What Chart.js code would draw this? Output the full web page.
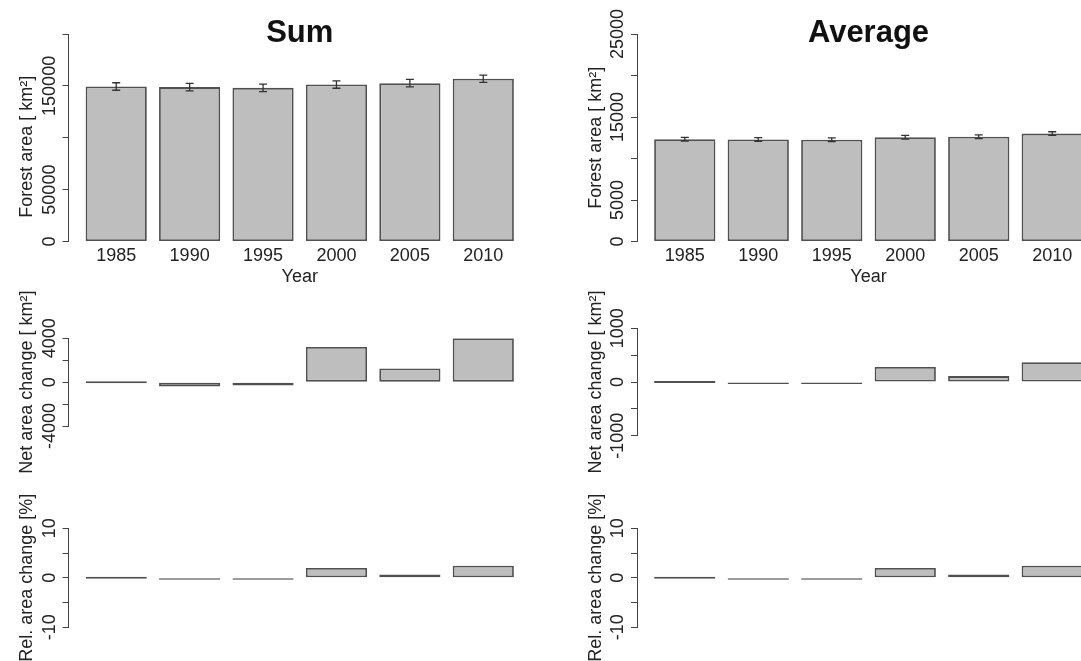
<!DOCTYPE html>
<html>
<head>
<meta charset="utf-8">
<script src="https://cdn.jsdelivr.net/npm/chart.js@4.4.1/dist/chart.umd.min.js"></script>
<style>
  html, body { margin: 0; padding: 0; background: #fff; }
  #wrap { position: relative; width: 1081px; height: 661px; overflow: hidden; }
  #wrap canvas { position: absolute; }
</style>
</head>
<body>
<div id="wrap">
  <canvas id="sumArea" width="540" height="300" style="left:0;top:0"></canvas>
  <canvas id="avgArea" width="560" height="300" style="left:540px;top:0"></canvas>
  <canvas id="sumNet" width="540" height="200" style="left:0;top:280px"></canvas>
  <canvas id="avgNet" width="560" height="200" style="left:540px;top:280px"></canvas>
  <canvas id="sumRel" width="540" height="191" style="left:0;top:470px"></canvas>
  <canvas id="avgRel" width="560" height="191" style="left:540px;top:470px"></canvas>
</div>
<script>
const FONT = '"Liberation Sans", Arial, Helvetica, sans-serif';

// data
const years = ['1985', '1990', '1995', '2000', '2005', '2010'];

const sumArea    = [149400, 148800, 148100, 151300, 152600, 156800];
const sumAreaErr = [3600, 3600, 3600, 3600, 3600, 3500];
const avgArea    = [12330, 12300, 12270, 12560, 12620, 13000];
const avgAreaErr = [220, 220, 220, 220, 220, 220];

const sumNet = [0, -400, -300, 3200, 1250, 4000];
const avgNet = [0, -30, -30, 280, 110, 370];

const sumRel = [0, -0.25, -0.2, 2.0, 0.65, 2.45];
const avgRel = [0, -0.25, -0.2, 2.0, 0.65, 2.45];

// labelled y ticks (R leaves out the ones that would overlap)
const sumAreaTicks = [0, 50000, 150000];
const avgAreaTicks = [0, 5000, 15000, 25000];
const sumNetTicks  = [-4000, 0, 4000];
const avgNetTicks  = [-1000, 0, 1000];
const relTicks     = [-10, 0, 10];

// barplot(): width 1, space 0.2
const barX = years.map((y, i) => 0.7 + 1.2 * i);

// y tick labels, rotated like R's las=0
const rAxisLabels = {
  id: 'rAxisLabels',
  afterDraw(chart, args, opts) {
    const ctx = chart.ctx, y = chart.scales.y;
    const x0 = chart.chartArea.left - 14;
    ctx.save();
    ctx.font = '18px ' + FONT;
    ctx.fillStyle = '#222';
    ctx.textAlign = 'center';
    ctx.textBaseline = 'alphabetic';
    (opts.labels || []).forEach(v => {
      ctx.save();
      ctx.translate(x0, y.getPixelForValue(v));
      ctx.rotate(-Math.PI / 2);
      ctx.fillText(String(v), 0, 0);
      ctx.restore();
    });
    ctx.restore();
  }
};

const errorBars = {
  id: 'errorBars',
  afterDatasetsDraw(chart, args, opts) {
    if (!opts.err) return;
    const ctx = chart.ctx, y = chart.scales.y;
    const meta = chart.getDatasetMeta(0);
    const vals = chart.data.datasets[0].data;
    ctx.save();
    ctx.strokeStyle = '#333';
    ctx.lineWidth = 1.3;
    meta.data.forEach((bar, i) => {
      const v = vals[i].y, e = opts.err[i];
      const t = y.getPixelForValue(v + e), b = y.getPixelForValue(v - e);
      ctx.beginPath();
      ctx.moveTo(bar.x, t); ctx.lineTo(bar.x, b);
      ctx.moveTo(bar.x - 4, t); ctx.lineTo(bar.x + 4, t);
      ctx.moveTo(bar.x - 4, b); ctx.lineTo(bar.x + 4, b);
      ctx.stroke();
    });
    ctx.restore();
  }
};

function panel(id, cfg) {
  const top = cfg.title != null;
  new Chart(document.getElementById(id), {
    type: 'bar',
    data: {
      datasets: [{
        data: cfg.values.map((v, i) => ({ x: barX[i], y: v })),
        backgroundColor: '#bebebe',
        borderColor: '#505050',
        borderWidth: 1.8,
        borderSkipped: false,
        minBarLength: cfg.minBar || 0,
        barPercentage: 1 / 1.2,
        categoryPercentage: 1
      }]
    },
    options: {
      responsive: false,
      animation: false,
      events: [],
      layout: { padding: cfg.pad },
      plugins: {
        legend: { display: false },
        tooltip: { enabled: false },
        title: {
          display: top, text: cfg.title, fullSize: false, color: '#111',
          font: { family: FONT, size: 31, weight: 'bold', lineHeight: 1 },
          padding: { top: 18, bottom: -15 }
        },
        rAxisLabels: { labels: cfg.tickLabels },
        errorBars: { err: cfg.err }
      },
      scales: {
        x: {
          type: 'linear', min: -0.08, max: 7.48, offset: false,
          display: top,
          grid: { display: false },
          border: { display: false },
          afterBuildTicks: s => { s.ticks = barX.map(v => ({ value: v })); },
          ticks: {
            callback: (v, i) => years[i],
            font: { family: FONT, size: 18 }, color: '#222',
            padding: -4.5, maxRotation: 0, autoSkip: false
          },
          title: {
            display: top, text: 'Year', color: '#222',
            font: { family: FONT, size: 18, lineHeight: 1.2 },
            padding: { top: 0, bottom: 12.4 }
          },
          afterFit: top ? (s => { s.height = 58.5; }) : undefined
        },
        y: {
          min: cfg.min, max: cfg.max,
          ticks: { stepSize: cfg.step, display: false },
          grid: { drawOnChartArea: false, drawTicks: true, tickLength: 6, color: '#444' },
          border: { display: true, color: '#444', width: 1 },
          title: {
            display: true, text: cfg.yTitle, color: '#222',
            font: { family: FONT, size: 18, lineHeight: 1.2 },
            padding: { top: cfg.titlePad, bottom: 0 }
          },
          afterFit: s => { s.width = cfg.axisX; }
        }
      }
    },
    plugins: [rAxisLabels, errorBars]
  });
}

// top row
panel('sumArea', {
  title: 'Sum', values: sumArea, err: sumAreaErr, tickLabels: sumAreaTicks,
  min: 0, max: 200000, step: 50000,
  yTitle: 'Forest area [ km\u00b2]\u2002\u2002', axisX: 68.5, titlePad: 16,
  pad: { top: 0, right: 9, bottom: 0, left: 0 }
});
panel('avgArea', {
  title: 'Average', values: avgArea, err: avgAreaErr, tickLabels: avgAreaTicks,
  min: 0, max: 25000, step: 5000,
  yTitle: 'Forest area [ km\u00b2]', axisX: 97, titlePad: 45,
  pad: { top: 0, right: 0, bottom: 0, left: 0 }
});

// middle row
panel('sumNet', {
  values: sumNet, tickLabels: sumNetTicks, minBar: 2,
  min: -4000, max: 4000, step: 2000,
  yTitle: 'Net area change [ km\u00b2]', axisX: 68.5, titlePad: 16,
  pad: { top: 58.3, right: 9, bottom: 54, left: 0 }
});
panel('avgNet', {
  values: avgNet, tickLabels: avgNetTicks, minBar: 2,
  min: -1000, max: 1000, step: 500,
  yTitle: 'Net area change [ km\u00b2]', axisX: 97, titlePad: 45,
  pad: { top: 48.3, right: 0, bottom: 44.3, left: 0 }
});

// bottom row
panel('sumRel', {
  values: sumRel, tickLabels: relTicks, minBar: 2,
  min: -10, max: 10, step: 5,
  yTitle: 'Rel. area change [%]', axisX: 68.5, titlePad: 16,
  pad: { top: 58.3, right: 9, bottom: 33.7, left: 0 }
});
panel('avgRel', {
  values: avgRel, tickLabels: relTicks, minBar: 2,
  min: -10, max: 10, step: 5,
  yTitle: 'Rel. area change [%]', axisX: 97, titlePad: 45,
  pad: { top: 58.3, right: 0, bottom: 33.7, left: 0 }
});
</script>
</body>
</html>
